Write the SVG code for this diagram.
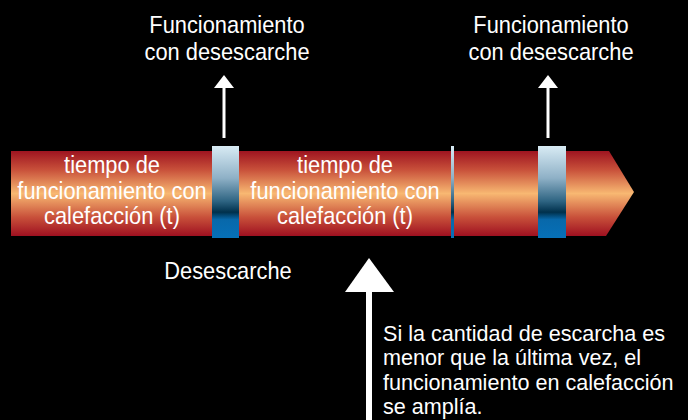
<svg xmlns="http://www.w3.org/2000/svg" width="688" height="420" viewBox="0 0 688 420">
<defs>
<linearGradient id="bar" x1="0" y1="0" x2="0" y2="1">
<stop offset="0" stop-color="#9e1420"/>
<stop offset="0.22" stop-color="#c8503a"/>
<stop offset="0.5" stop-color="#f8b872"/>
<stop offset="0.78" stop-color="#c8503a"/>
<stop offset="1" stop-color="#9e1020"/>
</linearGradient>
<linearGradient id="ice" x1="0" y1="0" x2="0" y2="1">
<stop offset="0" stop-color="#d8ebf4"/>
<stop offset="0.35" stop-color="#8eb0c6"/>
<stop offset="0.6" stop-color="#2e6482"/>
<stop offset="0.72" stop-color="#00304c"/>
<stop offset="0.8" stop-color="#0868aa"/>
<stop offset="1" stop-color="#0670b8"/>
</linearGradient>
<style>
text{font-family:"Liberation Sans",Arial,sans-serif;fill:#fff;font-size:24px}
.c{text-anchor:middle}
.n{font-size:22.5px}
</style>
</defs>
<rect width="688" height="420" fill="#000"/>
<g id="bar-node">
<path d="M11,151 L609,151 L634,192 L606,236 L11,236 Z" fill="url(#bar)"/>
</g>
<g id="defrost1"><rect x="212" y="146" width="27" height="92" fill="url(#ice)"/></g>
<g id="divider"><rect x="451" y="146" width="3" height="92" fill="url(#ice)"/></g>
<g id="defrost2"><rect x="538" y="146" width="28" height="92" fill="url(#ice)"/></g>
<g id="seg1" transform="translate(112,0) scale(0.91,1)">
<text class="c" x="0" y="173">tiempo de</text>
<text class="c" x="0" y="199">funcionamiento con</text>
<text class="c" x="0" y="224">calefacción (t)</text>
</g>
<g id="seg2" transform="translate(345,0) scale(0.91,1)">
<text class="c" x="0" y="173">tiempo de</text>
<text class="c" x="0" y="199">funcionamiento con</text>
<text class="c" x="0" y="224">calefacción (t)</text>
</g>
<g id="label1" transform="translate(227,0) scale(0.91,1)">
<text class="c" x="0" y="33">Funcionamiento</text>
<text class="c" x="0" y="60">con desescarche</text>
</g>
<g id="label2" transform="translate(551,0) scale(0.91,1)">
<text class="c" x="0" y="33">Funcionamiento</text>
<text class="c" x="0" y="60">con desescarche</text>
</g>
<g id="label-desescarche" transform="translate(228,0) scale(0.91,1)">
<text class="c" x="0" y="279">Desescarche</text>
</g>
<g id="note" transform="translate(383,0) scale(0.96,1)">
<text class="n" x="0" y="341">Si la cantidad de escarcha es</text>
<text class="n" x="0" y="365">menor que la última vez, el</text>
<text class="n" x="0" y="390">funcionamiento en calefacción</text>
<text class="n" x="0" y="414">se amplía.</text>
</g>
<g id="connectors" fill="#fff" stroke="#fff">
<line x1="224" y1="138" x2="224" y2="87" stroke-width="3"/>
<path d="M214,88 L224,75 L234,88 Z" stroke="none"/>
<line x1="548" y1="138" x2="548" y2="87" stroke-width="3"/>
<path d="M538,88 L548,75 L558,88 Z" stroke="none"/>
<line x1="369" y1="420" x2="369" y2="290" stroke-width="6"/>
<path d="M345,292 L369,258 L394,292 Z" stroke="none"/>
</g>
</svg>
